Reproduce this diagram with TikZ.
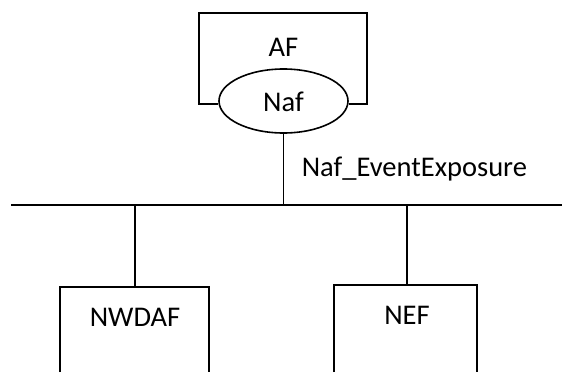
\documentclass[tikz,border=0pt]{standalone}
\usepackage{fontspec}
\setmainfont{Carlito}
\usetikzlibrary{shapes.geometric}
\begin{document}
\begin{tikzpicture}[x=1pt,y=-1pt,line width=1.6pt,
  lbl/.style={font=\fontsize{28.5}{31}\selectfont,inner sep=0pt}]
\useasboundingbox (0,0) rectangle (562,372);
% AF box (open at ellipse)
\node[draw,ellipse,minimum width=129,minimum height=64,inner sep=0pt,line width=1.6pt] (naf) at (283.5,101) {};
\node[lbl] at (283.5,102) {Naf};
\coordinate (afl) at (199,104);
\coordinate (afr) at (367,104);
\draw (naf.west |- afl) -- (afl) -- (199,13) -- (367,13) -- (afr) -- (naf.east |- afr);
\node[lbl] (af) at (283.5,47) {AF};
% bus
\coordinate (busl) at (11,205);
\coordinate (busr) at (562,205);
\draw (busl) -- (busr);
\coordinate (bt) at (283.5,205);
\draw (naf.south) -- (bt);
\node[lbl,anchor=base west] (lab) at (301,176) {Naf\_EventExposure};
% NWDAF
\coordinate (n1) at (135,205);
\draw (60,372) -- (60,287) -- (209,287) -- (209,372);
\coordinate (n1t) at (135,287);
\draw (n1) -- (n1t);
\node[lbl] (nwdaf) at (135,317) {NWDAF};
% NEF
\coordinate (n2) at (407,205);
\draw (334,372) -- (334,285) -- (477,285) -- (477,372);
\coordinate (n2t) at (407,285);
\draw (n2) -- (n2t);
\node[lbl] (nef) at (407,315) {NEF};
\end{tikzpicture}
\end{document}
